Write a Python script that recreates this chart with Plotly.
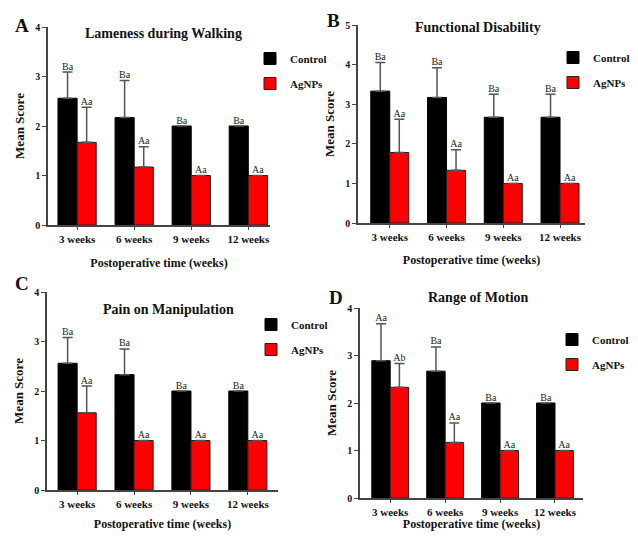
import plotly.graph_objects as go

weeks = ["3 weeks", "6 weeks", "9 weeks", "12 weeks"]
xpos = [0, 1, 2, 3]

# Panel A: Lameness during Walking
a_control = [2.56, 2.17, 2.0, 2.0]
a_control_err = [0.53, 0.75, 0.0, 0.0]
a_agnps = [1.67, 1.17, 1.0, 1.0]
a_agnps_err = [0.71, 0.41, 0.0, 0.0]
a_control_lbl = ["Ba", "Ba", "Ba", "Ba"]
a_agnps_lbl = ["Aa", "Aa", "Aa", "Aa"]

# Panel B: Functional Disability
b_control = [3.33, 3.17, 2.67, 2.67]
b_control_err = [0.72, 0.75, 0.58, 0.58]
b_agnps = [1.78, 1.33, 1.0, 1.0]
b_agnps_err = [0.84, 0.52, 0.0, 0.0]
b_control_lbl = ["Ba", "Ba", "Ba", "Ba"]
b_agnps_lbl = ["Aa", "Aa", "Aa", "Aa"]

# Panel C: Pain on Manipulation
c_control = [2.56, 2.33, 2.0, 2.0]
c_control_err = [0.52, 0.52, 0.0, 0.0]
c_agnps = [1.56, 1.0, 1.0, 1.0]
c_agnps_err = [0.54, 0.0, 0.0, 0.0]
c_control_lbl = ["Ba", "Ba", "Ba", "Ba"]
c_agnps_lbl = ["Aa", "Aa", "Aa", "Aa"]

# Panel D: Range of Motion
d_control = [2.89, 2.67, 2.0, 2.0]
d_control_err = [0.78, 0.51, 0.0, 0.0]
d_agnps = [2.33, 1.17, 1.0, 1.0]
d_agnps_err = [0.50, 0.41, 0.0, 0.0]
d_control_lbl = ["Aa", "Ba", "Ba", "Ba"]
d_agnps_lbl = ["Ab", "Aa", "Aa", "Aa"]

# page is 638x539; the html body has an 8px margin around the figure
OFF = 8
W, H = 638 - 2 * OFF, 539 - 2 * OFF
SERIF = "Liberation Serif"


def fx(x):
    return (x - OFF) / W


def fy(y):
    return 1 - (y - OFF) / H


panels = [
    dict(letter="A", title="Lameness during Walking", ymax=4,
         ctrl=a_control, ctrl_err=a_control_err, ag=a_agnps, ag_err=a_agnps_err,
         ctrl_lbl=a_control_lbl, ag_lbl=a_agnps_lbl,
         px=(48, 270), py=(27, 225), xr=(-0.51, 3.38), standoff=15,
         title_xy=(163, 33), letter_xy=(22, 25), legend_xy=(250, 44)),
    dict(letter="B", title="Functional Disability", ymax=5,
         ctrl=b_control, ctrl_err=b_control_err, ag=b_agnps, ag_err=b_agnps_err,
         ctrl_lbl=b_control_lbl, ag_lbl=b_agnps_lbl,
         px=(358, 585), py=(25, 223), xr=(-0.56, 3.44), standoff=14,
         title_xy=(478, 27), letter_xy=(333, 20), legend_xy=(553, 43)),
    dict(letter="C", title="Pain on Manipulation", ymax=4,
         ctrl=c_control, ctrl_err=c_control_err, ag=c_agnps, ag_err=c_agnps_err,
         ctrl_lbl=c_control_lbl, ag_lbl=c_agnps_lbl,
         px=(47, 278), py=(292, 490), xr=(-0.53, 3.53), standoff=14,
         title_xy=(168, 309), letter_xy=(22, 283), legend_xy=(251, 310)),
    dict(letter="D", title="Range of Motion", ymax=4,
         ctrl=d_control, ctrl_err=d_control_err, ag=d_agnps, ag_err=d_agnps_err,
         ctrl_lbl=d_control_lbl, ag_lbl=d_agnps_lbl,
         px=(360, 583), py=(308, 498), xr=(-0.55, 3.51), standoff=8,
         title_xy=(478, 297), letter_xy=(336, 297), legend_xy=(552, 325)),
]

fig = go.Figure()
annotations = []
layout = {}
half = (1 - 0.33) / 4  # offset of each bar center from category center

for i, p in enumerate(panels):
    n = "" if i == 0 else str(i + 1)
    xa, ya = "x" + n, "y" + n
    leg = "legend" + n
    err_style = dict(type="data", symmetric=False, color="#555555", thickness=1.5, width=5)
    fig.add_trace(go.Bar(
        x=xpos, y=p["ctrl"], name="<b>Control</b>", xaxis=xa, yaxis=ya, legend=leg,
        legendgroup=f"c{i}",
        marker=dict(color="black", line=dict(color="black", width=1)),
        error_y=dict(array=p["ctrl_err"], arrayminus=[0] * 4, **err_style),
    ))
    fig.add_trace(go.Bar(
        x=xpos, y=p["ag"], name="<b>AgNPs</b>", xaxis=xa, yaxis=ya, legend=leg,
        legendgroup=f"a{i}",
        marker=dict(color="#ff0000", line=dict(color="#222222", width=1)),
        error_y=dict(array=p["ag_err"], arrayminus=[0] * 4, **err_style),
    ))
    # significance letters above bars / error bars
    fig.add_trace(go.Scatter(
        x=[x - half for x in xpos] + [x + half for x in xpos],
        y=[v + e for v, e in zip(p["ctrl"], p["ctrl_err"])] + [v + e for v, e in zip(p["ag"], p["ag_err"])],
        text=p["ctrl_lbl"] + p["ag_lbl"], mode="text", textposition="top center",
        textfont=dict(family=SERIF, size=10, color="#222222"),
        xaxis=xa, yaxis=ya, showlegend=False, hoverinfo="skip", cliponaxis=False,
    ))

    x0, x1 = p["px"]
    y0, y1 = p["py"]
    layout["xaxis" + n] = dict(
        domain=[fx(x0), fx(x1)], anchor=ya, range=list(p["xr"]), automargin=False,
        tickvals=xpos, ticktext=["<b>" + w + "</b>" for w in weeks],
        ticks="outside", ticklen=3, tickwidth=1.2,
        tickcolor="#444", showline=True, linecolor="#444", linewidth=1.5,
        showgrid=False, zeroline=False,
        tickfont=dict(family=SERIF, size=11, color="#111"),
        title=dict(text="<b>Postoperative time (weeks)</b>", standoff=p["standoff"],
                   font=dict(family=SERIF, size=12, color="#111")),
    )
    layout["yaxis" + n] = dict(
        domain=[fy(y1), fy(y0)], anchor=xa, range=[0, p["ymax"]], automargin=False,
        dtick=1, ticks="outside", ticklen=4, tickwidth=1.2, tickcolor="#444",
        showline=True, linecolor="#444", linewidth=1.5, showgrid=False, zeroline=False,
        tickfont=dict(family=SERIF, size=10, color="#111"),
        tickprefix="<b>", ticksuffix="</b>",
        title=dict(text="<b>Mean Score</b>", standoff=8,
                   font=dict(family=SERIF, size=13, color="#111")),
    )
    lx, ly = p["legend_xy"]
    layout[leg] = dict(
        x=fx(lx), y=fy(ly), xanchor="left", yanchor="top",
        bgcolor="rgba(0,0,0,0)", traceorder="grouped", tracegroupgap=6,
        font=dict(family=SERIF, size=11, color="#111"),
        itemclick=False, itemdoubleclick=False,
    )
    tx, ty = p["title_xy"]
    annotations.append(dict(
        text="<b>" + p["title"] + "</b>", x=fx(tx), y=fy(ty), xref="paper", yref="paper",
        xanchor="center", yanchor="middle", showarrow=False,
        font=dict(family=SERIF, size=14, color="#111"),
    ))
    lx2, ly2 = p["letter_xy"]
    annotations.append(dict(
        text="<b>" + p["letter"] + "</b>", x=fx(lx2), y=fy(ly2), xref="paper", yref="paper",
        xanchor="center", yanchor="middle", showarrow=False,
        font=dict(family=SERIF, size=19, color="#111"),
    ))

fig.update_layout(
    width=W, height=H, margin=dict(l=0, r=0, t=0, b=0, autoexpand=False),
    paper_bgcolor="white", plot_bgcolor="white",
    barmode="group", bargap=0.33, bargroupgap=0,
    annotations=annotations, **layout,
)

fig.write_html("out.html")
